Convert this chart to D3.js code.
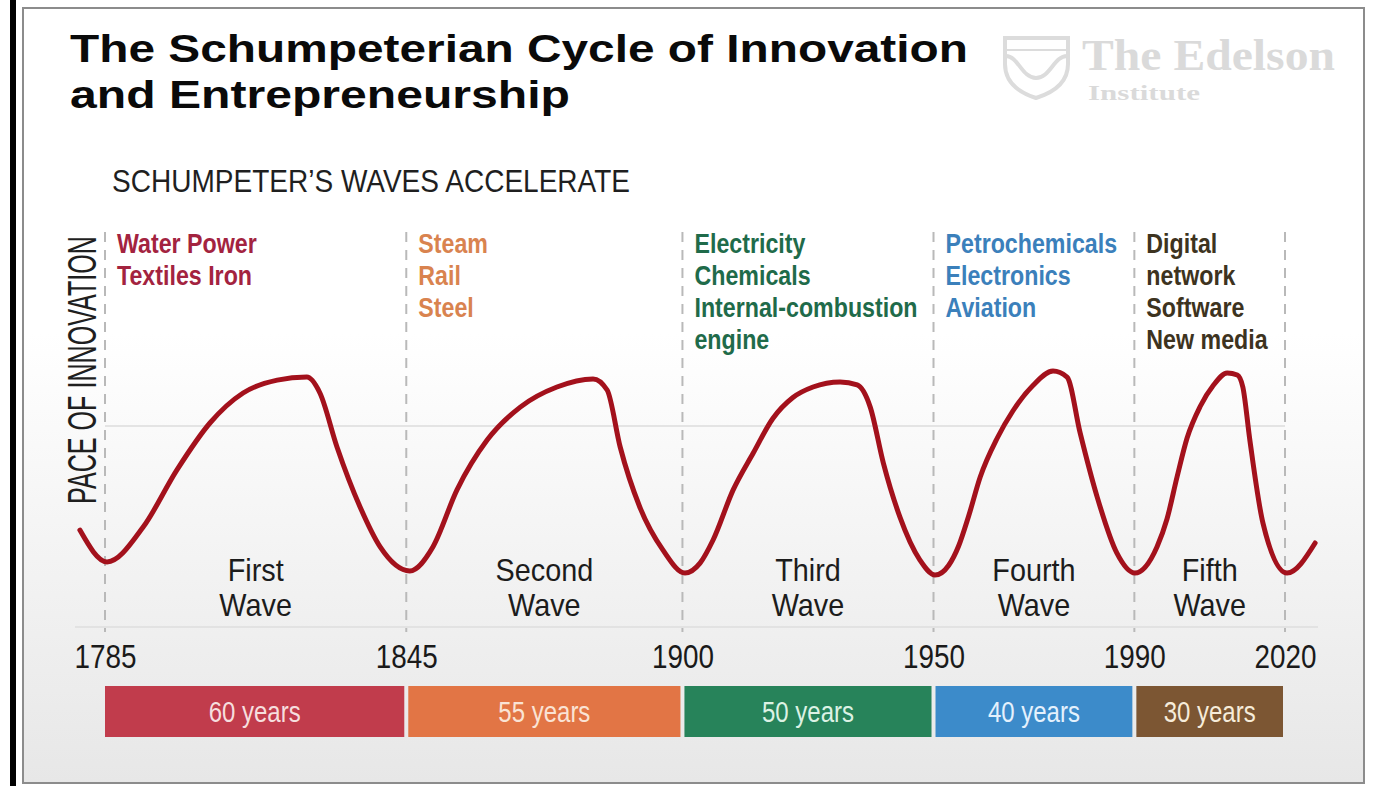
<!DOCTYPE html>
<html><head><meta charset="utf-8">
<script src="https://cdn.jsdelivr.net/npm/d3@7"></script>
<style>html,body{margin:0;padding:0;background:#fff;} svg{display:block;}</style>
</head><body>
<svg id="chart" width="1379" height="786"></svg>
<script>
// ---- data ----
const tickYears = [1785, 1845, 1900, 1950, 1990, 2020];
const waveNames = ["First", "Second", "Third", "Fourth", "Fifth"];
const waveSpans = ["60 years", "55 years", "50 years", "40 years", "30 years"];
const sectorLines = [
  ["Water Power", "Textiles Iron"],
  ["Steam", "Rail", "Steel"],
  ["Electricity", "Chemicals", "Internal-combustion", "engine"],
  ["Petrochemicals", "Electronics", "Aviation"],
  ["Digital", "network", "Software", "New media"]
];
const barColors = ["#c13c4c", "#e27545", "#27835a", "#3c8bca", "#7c5633"];
const sectorColors = ["#a3233f", "#d9834f", "#1f6b4a", "#3b80bb", "#3d3320"];
const spanTextColors = ["#f6dede", "#fae3d4", "#dcf2e4", "#e4f1fd", "#f6ecda"];
const curveYears = [1780.0, 1785.4, 1792.6, 1799.3, 1805.9, 1812.5, 1819.3, 1825.2, 1827.8, 1831.2, 1835.8, 1839.8,
  1845.7, 1850.3, 1855.1, 1861.1, 1867.7, 1875.0, 1882.2, 1885.0, 1887.6, 1891.5, 1896.1,
  1900.5, 1903.5, 1906.1, 1910.1, 1914.1, 1918.0, 1922.0, 1926.0, 1931.4, 1934.8, 1937.4, 1940.0, 1943.3, 1947.3,
  1950.3, 1953.0, 1955.0, 1957.0, 1959.3, 1962.7, 1965.8, 1969.8, 1973.8, 1976.6, 1979.2, 1982.6, 1986.5,
  1990.1, 1994.5, 1996.5, 1998.5, 2000.5, 2003.1, 2005.7, 2008.5, 2010.5, 2011.6, 2013.0, 2015.6, 2020.4, 2026.0];
const curvePace = [32.3, 21.7, 33.3, 52.3, 68, 78, 82.3, 83.3, 78, 60, 40, 26.7,
  18.7, 26.7, 45.7, 62.3, 73.3, 80, 82.7, 79, 60, 40, 25.7,
  18, 21.3, 29, 45.7, 58, 69.5, 76.5, 80, 81.7, 80.7, 73.3, 54.7, 36.7, 22.3,
  17.3, 20.5, 27, 37, 50, 63, 72, 80.5, 85.3, 83.3, 64.7, 43.3, 24.7,
  18, 26.7, 36, 50, 63, 73.5, 80.5, 84.7, 84, 80, 62.3, 34.7, 18, 28];
const gridPace = 67;

// ---- setup ----
const svg = d3.select("#chart");
const COND = "'Liberation Sans', Arial, sans-serif";
const x = d3.scaleLinear().domain([1785, 2020]).range([105, 1285]);
const y = d3.scaleLinear().domain([0, 100]).range([627, 327]);

function fitText(sel, w) { sel.attr("textLength", w).attr("lengthAdjust", "spacingAndGlyphs"); return sel; }
function scaledText(parent, tx, ty, lines, size, sx, opts = {}) {
  const g = parent.append("g").attr("transform", `translate(${tx},${ty}) scale(${sx},1)`);
  const t = g.append("text")
    .attr("font-family", opts.family || COND)
    .attr("font-size", size)
    .attr("font-weight", opts.weight || "normal")
    .attr("fill", opts.fill || "#1c1c1c")
    .attr("text-anchor", opts.anchor || "start");
  const arr = Array.isArray(lines) ? lines : [lines];
  arr.forEach((ln, j) => t.append("tspan").attr("x", 0).attr("y", j * (opts.lh || 0)).text(ln));
  return t;
}

const defs = svg.append("defs");
const grad = defs.append("linearGradient").attr("id", "bg").attr("x1", 0).attr("y1", 0).attr("x2", 0).attr("y2", 1);
grad.append("stop").attr("offset", "0").attr("stop-color", "#ffffff");
grad.append("stop").attr("offset", "0.42").attr("stop-color", "#ffffff");
grad.append("stop").attr("offset", "1").attr("stop-color", "#e7e7e7");

// frame
svg.append("rect").attr("x", 0).attr("y", 0).attr("width", 1379).attr("height", 786).attr("fill", "#fff");
svg.append("rect").attr("x", 23).attr("y", 8).attr("width", 1341).attr("height", 775)
  .attr("fill", "url(#bg)").attr("stroke", "#8c8c8c").attr("stroke-width", 2);
svg.append("rect").attr("x", 10).attr("y", 0).attr("width", 6).attr("height", 786).attr("fill", "#000");

// title
const tf = "'Liberation Sans', Arial, Helvetica, sans-serif";
fitText(svg.append("text").attr("x", 70).attr("y", 62).text("The Schumpeterian Cycle of Innovation")
  .attr("font-family", tf).attr("font-weight", "bold").attr("font-size", 39).attr("fill", "#0a0a0a"), 898);
fitText(svg.append("text").attr("x", 70).attr("y", 108).text("and Entrepreneurship")
  .attr("font-family", tf).attr("font-weight", "bold").attr("font-size", 39).attr("fill", "#0a0a0a"), 500);

// logo
const logo = svg.append("g").attr("fill", "none").attr("stroke", "#dcdcdc").attr("stroke-width", 4);
logo.append("path").attr("d", "M1005,38 L1068,38 L1068,64 Q1068,88 1036,98 Q1005,88 1005,64 Z");
logo.append("path").attr("d", "M1006,56 C1018,56 1022,78 1036,78 C1050,78 1054,56 1067,56");
logo.append("path").attr("d", "M1006,50 L1067,50").attr("stroke-width", 2);
const logoFont = "'Liberation Serif', serif";
fitText(svg.append("text").attr("x", 1082).attr("y", 70).attr("font-size", 44).text("The Edelson")
  .attr("font-family", logoFont).attr("font-weight", "bold").attr("fill", "#dadada"), 253);
fitText(svg.append("text").attr("x", 1088).attr("y", 100).attr("font-size", 22).text("Institute")
  .attr("font-family", logoFont).attr("font-weight", "bold").attr("fill", "#dadada"), 112);

// subtitle
fitText(svg.append("text").attr("x", 112).attr("y", 192).text("SCHUMPETER\u2019S WAVES ACCELERATE")
  .attr("font-family", COND).attr("font-size", 32).attr("fill", "#1f1f1f"), 518);

// y label
fitText(svg.append("text").attr("transform", "translate(96,370) rotate(-90)").attr("text-anchor", "middle")
  .text("PACE OF INNOVATION").attr("font-family", COND).attr("font-size", 40).attr("fill", "#1f1f1f"), 268);

// grid lines
svg.append("line").attr("x1", x(1785)).attr("x2", x(2020)).attr("y1", y(gridPace)).attr("y2", y(gridPace))
  .attr("stroke", "#e4e4e4").attr("stroke-width", 2);
svg.append("line").attr("x1", 75).attr("x2", 1318).attr("y1", y(0)).attr("y2", y(0))
  .attr("stroke", "#e2e2e2").attr("stroke-width", 2);

// dashed dividers
svg.append("g").selectAll("line").data(tickYears).join("line")
  .attr("x1", d => x(d)).attr("x2", d => x(d)).attr("y1", 232).attr("y2", 632)
  .attr("stroke", "#b9b9b9").attr("stroke-width", 2).attr("stroke-dasharray", "10,8");

// sector labels
sectorLines.forEach((lines, i) => {
  scaledText(svg, x(tickYears[i]) + 12, 253, lines, 27, 0.86, { weight: "bold", fill: sectorColors[i], lh: 32 });
});

// curve
const line = d3.line().x((d, i) => x(curveYears[i])).y(d => y(d)).curve(d3.curveMonotoneX);
svg.append("path").attr("d", line(curvePace)).attr("fill", "none")
  .attr("stroke", "#a3111c").attr("stroke-width", 5).attr("stroke-linecap", "round").attr("stroke-linejoin", "round");

// wave names
waveNames.forEach((n, i) => {
  const cx = (x(tickYears[i]) + x(tickYears[i + 1])) / 2;
  scaledText(svg, cx, 581, [n, "Wave"], 32, 0.9, { anchor: "middle", lh: 35.5 });
});

// year axis
const axis = d3.axisBottom(x).tickValues(tickYears).tickFormat(d3.format("d")).tickSize(0).tickPadding(17);
const ag = svg.append("g").attr("transform", `translate(0,${y(0)})`).call(axis);
ag.select(".domain").remove();
ag.selectAll("text").attr("font-family", COND).attr("font-size", 34).attr("fill", "#1a1a1a")
  .attr("textLength", 62).attr("lengthAdjust", "spacingAndGlyphs");

// duration bars
const bars = svg.append("g");
waveSpans.forEach((s, i) => {
  const x0 = x(tickYears[i]) + (i === 0 ? 0 : 2), x1 = x(tickYears[i + 1]) - 2;
  bars.append("rect").attr("x", x0).attr("y", 686).attr("width", x1 - x0).attr("height", 51).attr("fill", barColors[i]);
  scaledText(bars, (x0 + x1) / 2, 722, s, 30, 0.8, { anchor: "middle", fill: spanTextColors[i] });
});
</script>
</body></html>
